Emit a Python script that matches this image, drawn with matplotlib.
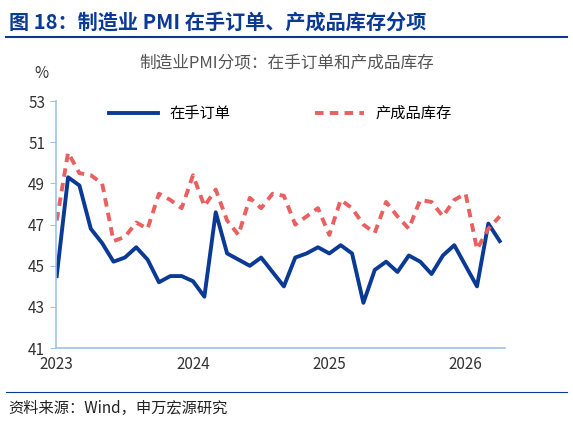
import matplotlib
matplotlib.use("Agg")
import matplotlib.pyplot as plt

plt.rcParams['font.family'] = ['Noto Sans CJK SC', 'DejaVu Sans']

# ── Data (monthly, 2023-01 .. 2026-04) ───────────────────────────────
orders = [44.5, 49.3, 48.9, 46.8, 46.1, 45.2, 45.4, 45.9, 45.3, 44.2, 44.5, 44.5,
          44.25, 43.5, 47.6, 45.6, 45.3, 45.0, 45.4, 44.7, 44.0, 45.4, 45.6, 45.9,
          45.6, 46.0, 45.6, 43.2, 44.8, 45.2, 44.7, 45.5, 45.2, 44.6, 45.5, 46.0,
          45.0, 44.0, 47.05, 46.2]
inventory = [47.2, 50.5, 49.5, 49.4, 49.0, 46.2, 46.4, 47.1, 46.8, 48.5, 48.2, 47.8,
             49.4, 47.9, 48.7, 47.2, 46.5, 48.3, 47.8, 48.5, 48.4, 47.0, 47.4, 47.8,
             46.5, 48.2, 47.8, 47.0, 46.6, 48.1, 47.4, 46.8, 48.2, 48.1, 47.4, 48.2,
             48.5, 45.8, 46.8, 47.4]
year_ticks = [0, 12, 24, 36]
year_labels = ["2023", "2024", "2025", "2026"]

BLUE = "#0b3a94"
RED = "#e8605f"
AXIS = "#9dc3e6"

fig = plt.figure(figsize=(5.73, 4.23), dpi=100)
ax = fig.add_axes([0.097, 0.177, 0.785, 0.584])

months = list(range(len(orders)))
ax.plot(months, orders, color=BLUE, lw=2.8, label="在手订单")
ax.plot(months, inventory, color=RED, lw=2.8, ls=(0, (2.2, 1.6)), label="产成品库存")

ax.set_xlim(-0.1, 39.5)
ax.set_ylim(41, 53)
ax.set_yticks(range(41, 54, 2))
ax.set_xticks(year_ticks)
ax.set_xticklabels(year_labels)
ax.tick_params(axis="y", length=4, color=AXIS, labelsize=11, labelcolor="#333333")
ax.tick_params(axis="x", length=0, labelsize=11, labelcolor="#333333", pad=6)
for side in ["top", "right"]:
    ax.spines[side].set_visible(False)
for side in ["left", "bottom"]:
    ax.spines[side].set_color(AXIS)
    ax.spines[side].set_linewidth(1.2)

ax.legend(loc="upper center", bbox_to_anchor=(0.5, 1.04), ncol=2, frameon=False,
          fontsize=11, handlelength=3.2, columnspacing=5.5)

fig.text(0.06, 0.815, "%", fontsize=11, color="#333333")
fig.text(0.5, 0.84, "制造业PMI分项：在手订单和产成品库存", ha="center",
         fontsize=12, color="#555555")

# Header and footer
fig.text(0.015, 0.948, "图 18：制造业 PMI 在手订单、产成品库存分项", fontsize=14.5,
         fontweight="bold", color=BLUE, va="center")
fig.add_artist(plt.Line2D([0.01, 0.99], [0.912, 0.912], color=BLUE, lw=1.5))
fig.add_artist(plt.Line2D([0.01, 0.99], [0.073, 0.073], color=BLUE, lw=0.8))
fig.text(0.015, 0.035, "资料来源：Wind，申万宏源研究", fontsize=11, color="#222222", va="center")

fig.savefig("out.png", dpi=100)
